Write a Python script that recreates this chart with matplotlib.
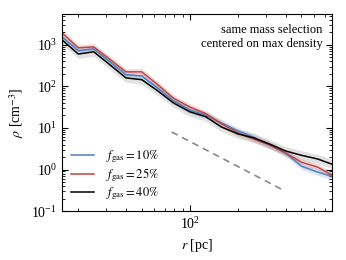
import numpy as np
import matplotlib
matplotlib.use("Agg")
from matplotlib import pyplot as plt

plt.rcParams['font.family'] = ['Liberation Serif', 'DejaVu Serif']
plt.rcParams['mathtext.fontset'] = 'stix'
plt.rcParams['font.size'] = 10

# radius grid [pc]
r = [15.8, 20, 25, 31.6, 39.8, 50, 63, 79, 100, 126, 158, 200, 251, 316, 398, 501, 631, 776]

# density profiles [cm^-3]
rho_10 = [1550, 725, 795, 390, 190, 178, 91, 45, 27, 20.4, 13.2, 8.5, 6.0, 3.9, 2.5, 1.2, 0.87, 0.69]
rho_25 = [1950, 850, 890, 447, 224, 224, 110, 52, 32, 22, 12.6, 7.6, 5.4, 3.9, 2.5, 1.5, 1.15, 0.74]
rho_40 = [1320, 600, 680, 330, 160, 145, 78, 40, 24.5, 18.6, 10.5, 7.2, 5.8, 4.1, 2.8, 2.2, 1.8, 1.35]

# scatter of each profile (dex)
spread_10 = 0.08
spread_25 = 0.08
spread_40 = 0.11

# reference slope rho ~ r^-2
ref_r = [77, 375]
ref_rho = [8.0, 8.0 * (77 / 375) ** 2]

labels = [r'$f_{\rm gas} = 10\%$', r'$f_{\rm gas} = 25\%$', r'$f_{\rm gas} = 40\%$']
colors = ['#4f7fc4', '#bf4540', 'black']
band_colors = ['#5b8ad0', '#d06560', '#777777']

fig = plt.figure(figsize=(3.46, 2.60), dpi=100)
ax = fig.add_axes([0.179, 0.188, 0.780, 0.758])

for rho, s, c, bc, lab in zip([rho_10, rho_25, rho_40],
                              [spread_10, spread_25, spread_40],
                              colors, band_colors, labels):
    rho = np.array(rho)
    ax.fill_between(r, rho * 10 ** -s, rho * 10 ** s, color=bc, alpha=0.22, lw=0)
    ax.plot(r, rho, color=c, lw=1.1, label=lab)

ax.plot(ref_r, ref_rho, ls='--', color='#888888', lw=1.2, dashes=(4, 3))

ax.set_xscale('log')
ax.set_yscale('log')
ax.set_xlim(15.8, 776)
ax.set_ylim(0.1, 5500)
ax.set_xlabel(r'$r$ [pc]')
ax.set_ylabel(r'$\rho$ [cm$^{-3}$]')
ax.tick_params(which='both', direction='in', top=True, right=True)
ax.tick_params(which='major', length=4)
ax.tick_params(which='minor', length=2)

ax.text(0.965, 0.95, 'same mass selection\ncentered on max density',
        transform=ax.transAxes, ha='right', va='top', fontsize=9, linespacing=1.2)

ax.legend(loc='lower left', frameon=False, fontsize=9, handlelength=1.9,
          handletextpad=0.9, borderaxespad=0.3, labelspacing=0.12)

fig.savefig('out.png', dpi=100)
